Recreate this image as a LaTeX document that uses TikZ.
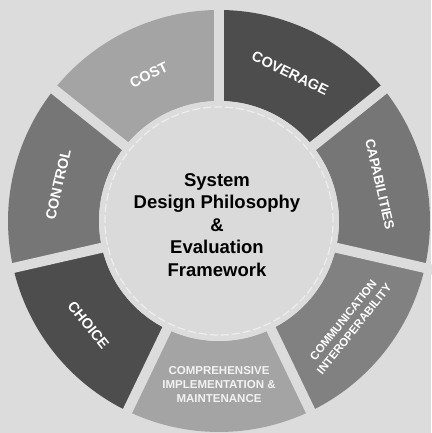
\documentclass[tikz,border=0pt]{standalone}
\usepackage{fontspec}
\setmainfont{Liberation Sans}
\definecolor{bg}{HTML}{DCDCDC}
\definecolor{hub}{HTML}{DADADA}
\definecolor{hubrim}{HTML}{EEEEEE}
\definecolor{segdark}{HTML}{4C4D4C}
\definecolor{segmid}{HTML}{767676}
\definecolor{segmidlight}{HTML}{818181}
\definecolor{seglight}{HTML}{A4A4A4}
\definecolor{labelsoft}{HTML}{F2F2F2}
\tikzset{
  seglabel/.style={text=white, font=\bfseries\fontsize{14.5}{16}\selectfont, inner sep=0pt},
  smalllabel/.style={text=white, align=center, font=\bfseries\fontsize{11.5}{14}\selectfont, inner sep=0pt},
  hubtext/.style={align=center, text=black, font=\bfseries\fontsize{18.5}{22.5}\selectfont}
}
\begin{document}
\begin{tikzpicture}[x=1pt,y=1pt]
  \fill[bg] (0,0) rectangle (431,433);
  \useasboundingbox (0,0) rectangle (431,433);
  \begin{scope}[shift={(219,212)}]
    % ring sectors: start angle / end angle / colour
    \foreach \sa/\ea/\col in {90/38.571/segdark, 38.571/-12.857/segmid,
        -12.857/-64.286/segmidlight, -64.286/-115.714/seglight,
        -115.714/-167.143/segdark, -167.143/-218.571/segmid,
        141.429/90/seglight}{
      \fill[\col] (\sa:211) arc[start angle=\sa, end angle=\ea, radius=211]
        -- (\ea:120) arc[start angle=\ea, end angle=\sa, radius=120] -- cycle;
    }
    % straight gaps between the sectors
    \foreach \b in {90,38.571,-12.857,-64.286,-115.714,-167.143,141.429}{
      \draw[bg, line width=10pt] (0,0) -- (\b:225);
    }
    % central hub
    \fill[bg] (0,0) circle[radius=120];
    \fill[hub] (0,0) circle[radius=114];
    \draw[hubrim, line width=1.2pt, dash pattern=on 8pt off 3pt] (0,0) circle[radius=114];
    \node[hubtext] (hubtitle) at (-2,-4)
      {System\\Design Philosophy\\\&\\Evaluation\\Framework};
    % sector labels
    \node[seglabel, rotate=-25.71] (coverage) at (64.286:164) {COVERAGE};
    \node[seglabel, rotate=-77.14, font=\bfseries\fontsize{13.5}{15}\selectfont] (capabilities) at (12.857:165) {CAPABILITIES};
    \node[smalllabel, rotate=51.43] (communication) at (-38.571:166) {COMMUNICATION\\INTEROPERABILITY};
    \node[smalllabel, text=labelsoft] (comprehensive) at (-90:164) {COMPREHENSIVE\\IMPLEMENTATION \&\\MAINTENANCE};
    \node[seglabel, rotate=-51.43] (choice) at (-141.43:167) {CHOICE};
    \node[seglabel, rotate=77.14] (control) at (167.14:165) {CONTROL};
    \node[seglabel, rotate=25.71] (cost) at (115.71:162) {COST};
  \end{scope}
\end{tikzpicture}
\end{document}
